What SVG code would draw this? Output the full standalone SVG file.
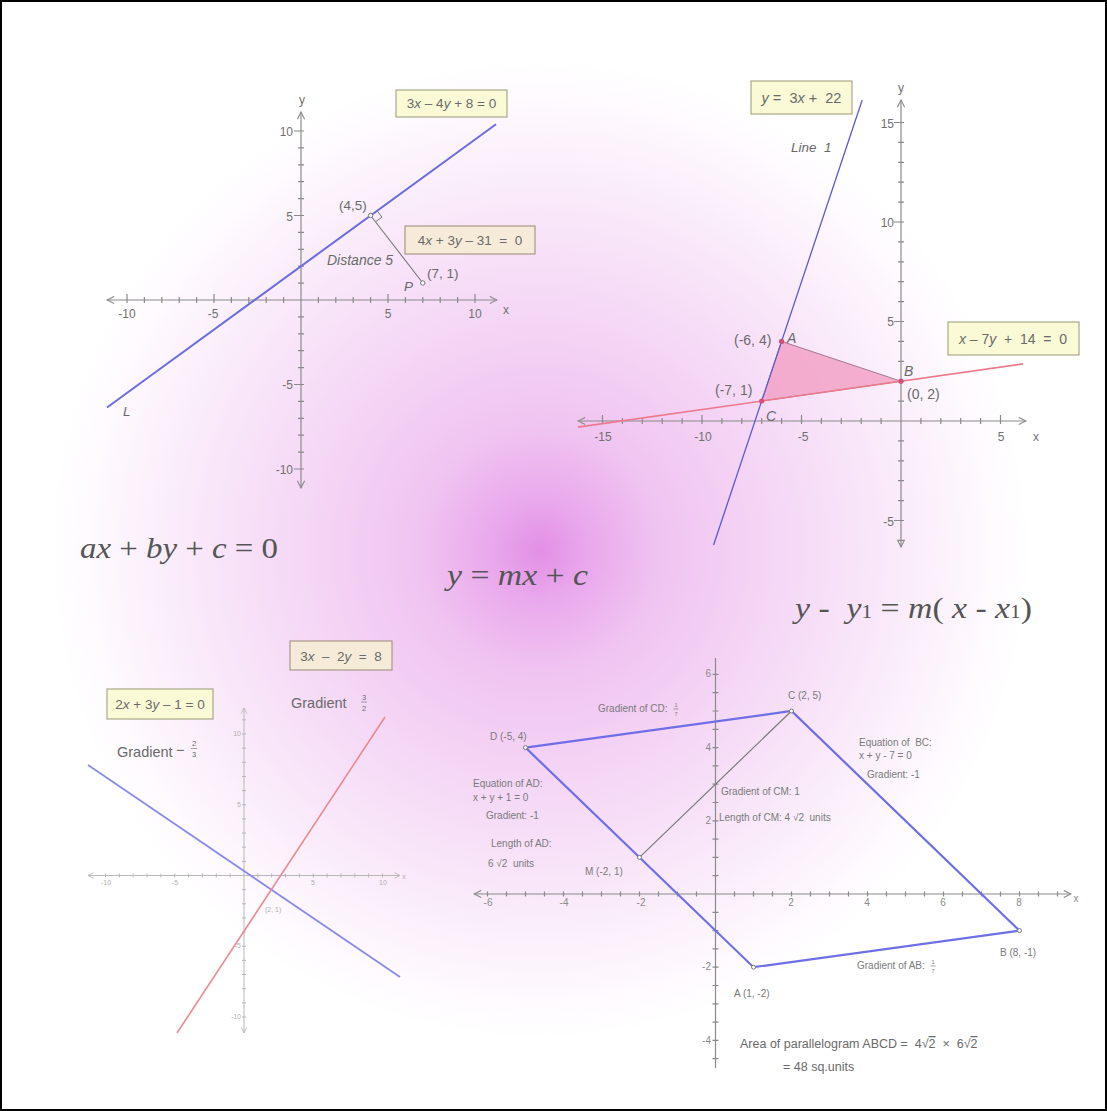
<svg xmlns="http://www.w3.org/2000/svg" width="1107" height="1111" viewBox="0 0 1107 1111">
<defs>
<radialGradient id="glow" gradientUnits="userSpaceOnUse" cx="540" cy="550" r="490">
<stop offset="0" stop-color="#e28fe5"/>
<stop offset="0.1" stop-color="#e9a8ec"/>
<stop offset="0.25" stop-color="#f0c4f1"/>
<stop offset="0.5" stop-color="#f5d8f6"/>
<stop offset="0.75" stop-color="#faecfa"/>
<stop offset="0.92" stop-color="#fefafe"/>
<stop offset="1" stop-color="#ffffff"/>
</radialGradient>
<marker id="arr" viewBox="0 0 10 10" refX="9" refY="5" markerWidth="9" markerHeight="9" markerUnits="userSpaceOnUse" orient="auto-start-reverse"><path d="M1,1 L9,5 L1,9" fill="none" stroke="#8a8a8a" stroke-width="1.2"/></marker>
<marker id="arrL" viewBox="0 0 10 10" refX="9" refY="5" markerWidth="7" markerHeight="7" markerUnits="userSpaceOnUse" orient="auto-start-reverse"><path d="M1,1 L9,5 L1,9" fill="none" stroke="#b5b5b5" stroke-width="1.2"/></marker>
</defs>
<style>
text{white-space:pre}
.ax{stroke:#8a8a8a;stroke-width:1.2;fill:none}
.axL{stroke:#b8b8b8;stroke-width:1;fill:none}
.t{font-family:"Liberation Sans",Arial,sans-serif;fill:#6a6a6a}
.ti{font-family:"Liberation Sans",Arial,sans-serif;fill:#6a6a6a;font-style:italic}
.tk{font-family:"Liberation Sans",Arial,sans-serif;fill:#707070;font-size:12px}
.tkL{font-family:"Liberation Sans",Arial,sans-serif;fill:#b0b0b0;font-size:7px}
.tk4{font-family:"Liberation Sans",Arial,sans-serif;fill:#8a8a8a;font-size:10px}
.lb{font-family:"Liberation Sans",Arial,sans-serif;fill:#7a7a7a;font-size:10px}
.fr{font-family:"Liberation Sans",Arial,sans-serif;fill:#7a7a7a;font-size:5.5px}
.boxY{fill:#fafad6;stroke:#a8a888;stroke-width:1.2}
.boxP{fill:#f6ead8;stroke:#a89888;stroke-width:1.2}
.f{font-family:"Liberation Serif","Times New Roman",serif;fill:#555;font-size:30px}
.blue{stroke:#6b6be2;stroke-width:2;fill:none}
.red{stroke:#ec7a8c;stroke-width:1.6;fill:none}
.pt{fill:#fff;stroke:#777;stroke-width:1}
</style>
<rect id="bg" x="0" y="0" width="1107" height="1111" fill="url(#glow)"/>

<g id="graph1">
<path class="ax" d="M107 300H497" marker-start="url(#arr)" marker-end="url(#arr)"/>
<path class="ax" d="M301 112V488" marker-start="url(#arr)" marker-end="url(#arr)"/>
<path class="ax" d="M127 297v6m17.4-6v6m17.4-6v6m17.4-6v6m17.4-6v6m17.4-6v6m17.4-6v6m17.4-6v6m17.4-6v6m17.4-6v6m34.8-6v6m17.4-6v6m17.4-6v6m17.4-6v6m17.4-6v6m17.4-6v6m17.4-6v6m17.4-6v6m17.4-6v6m17.4-6v6"/>
<path class="ax" d="M298 131h6m-6 16.9h6m-6 16.9h6m-6 16.9h6m-6 16.9h6m-6 16.9h6m-6 16.9h6m-6 16.9h6m-6 16.9h6m-6 16.9h6m-6 33.8h6m-6 16.9h6m-6 16.9h6m-6 16.9h6m-6 16.9h6m-6 16.9h6m-6 16.9h6m-6 16.9h6m-6 16.9h6m-6 16.9h6"/>
<path class="ax" d="M127 294v3M214 294v3M388 294v3M475 294v3M294 131h4M294 215.5h4M294 384.5h4M294 469h4"/>
<text class="tk" x="302" y="104" text-anchor="middle">y</text>
<text class="tk" x="506" y="314" text-anchor="middle">x</text>
<g text-anchor="middle"><text class="tk" x="127" y="318">-10</text><text class="tk" x="213" y="318">-5</text><text class="tk" x="388" y="318">5</text><text class="tk" x="475" y="318">10</text></g>
<g text-anchor="end"><text class="tk" x="293" y="136">10</text><text class="tk" x="293" y="221">5</text><text class="tk" x="293" y="389">-5</text><text class="tk" x="293" y="474">-10</text></g>
<path class="blue" d="M107 407.5L496 124.2"/>
<path d="M370.6 215.5L422.8 283" stroke="#777" stroke-width="1.1" fill="none"/>
<path d="M377.1 210.8L382 217.1L375.5 221.8" stroke="#777" stroke-width="1" fill="none"/>
<circle class="pt" cx="370.6" cy="215.5" r="2.2"/>
<circle class="pt" cx="422.8" cy="283" r="2.2"/>
<text class="t" x="353" y="210" font-size="13.5" text-anchor="middle">(4,5)</text>
<text class="ti" x="327" y="265" font-size="14">Distance 5</text>
<text class="t" x="427" y="278" font-size="13.5">(7, 1)</text>
<text class="ti" x="404" y="291" font-size="13.5">P</text>
<text class="ti" x="123" y="416" font-size="13.5">L</text>
<rect class="boxY" x="396" y="90" width="111" height="27"/>
<text class="t" x="451.5" y="108" font-size="13.5" text-anchor="middle">3<tspan font-style="italic">x</tspan> – 4<tspan font-style="italic">y</tspan> + 8 = 0</text>
<rect class="boxP" x="405" y="226" width="130" height="28"/>
<text class="t" x="470" y="245" font-size="13.5" text-anchor="middle">4<tspan font-style="italic">x</tspan> + 3<tspan font-style="italic">y</tspan> – 31  =  0</text>
</g>

<g id="graph2">
<path d="M781.6 341.4L901 381.2L761.7 401Z" fill="#f2a2c6" fill-opacity="0.85" stroke="#a07890" stroke-width="1"/>
<path class="ax" d="M578 421H1026" marker-start="url(#arr)" marker-end="url(#arr)"/>
<path class="ax" d="M901 100V547" marker-start="url(#arr)" marker-end="url(#arr)"/>
<path class="ax" d="M602.5 418v6m19.9-6v6m19.9-6v6m19.9-6v6m19.9-6v6m19.9-6v6m19.9-6v6m19.9-6v6m19.9-6v6m19.9-6v6m19.9-6v6m19.9-6v6m19.9-6v6m19.9-6v6m19.9-6v6m39.8-6v6m19.9-6v6m19.9-6v6m19.9-6v6m19.9-6v6"/>
<path class="ax" d="M898 122.5h6m-6 19.9h6m-6 19.9h6m-6 19.9h6m-6 19.9h6m-6 19.9h6m-6 19.9h6m-6 19.9h6m-6 19.9h6m-6 19.9h6m-6 19.9h6m-6 19.9h6m-6 19.9h6m-6 19.9h6m-6 19.9h6m-6 39.8h6m-6 19.9h6m-6 19.9h6m-6 19.9h6m-6 19.9h6m-6 19.9h6"/>
<path class="ax" d="M602.5 415v3M702 415v3M801.5 415v3M1000.5 415v3M894 122.5h4M894 222h4M894 321.5h4M894 520.5h4"/>
<text class="tk" x="901" y="92" text-anchor="middle" font-size="13">y</text>
<text class="tk" x="1036" y="441" text-anchor="middle" font-size="13">x</text>
<g text-anchor="middle"><text class="tk" x="603" y="441" font-size="14">-15</text><text class="tk" x="703" y="441" font-size="14">-10</text><text class="tk" x="803" y="441" font-size="14">-5</text><text class="tk" x="1001" y="441" font-size="14">5</text></g>
<g text-anchor="end"><text class="tk" x="894" y="128" font-size="14">15</text><text class="tk" x="894" y="227" font-size="14">10</text><text class="tk" x="894" y="326" font-size="14">5</text><text class="tk" x="894" y="526" font-size="14">-5</text></g>
<path d="M713.6 545L862.2 100" stroke="#5a5ad2" stroke-width="1.3" fill="none"/>
<path class="red" d="M578 427.1L1023 363.9"/>
<circle cx="781.6" cy="341.4" r="2.6" fill="#d2507a"/>
<circle cx="901" cy="381.2" r="2.6" fill="#d2507a"/>
<circle cx="761.7" cy="401" r="2.6" fill="#d2507a"/>
<text class="t" x="734" y="345" font-size="14">(-6, 4)</text>
<text class="ti" x="787" y="343" font-size="14">A</text>
<text class="ti" x="904" y="376" font-size="14">B</text>
<text class="t" x="907" y="399" font-size="14">(0, 2)</text>
<text class="t" x="715" y="395" font-size="14">(-7, 1)</text>
<text class="ti" x="766" y="421" font-size="14">C</text>
<text class="ti" x="791" y="152" font-size="13.5">Line  1</text>
<rect class="boxY" x="751" y="81" width="101" height="33"/>
<text class="t" x="801.5" y="103" font-size="14.5" text-anchor="middle"><tspan font-style="italic">y</tspan> =  3<tspan font-style="italic">x</tspan> +  22</text>
<rect class="boxY" x="948" y="322" width="131" height="33"/>
<text class="t" x="1013" y="344" font-size="14" text-anchor="middle"><tspan font-style="italic">x</tspan> – 7<tspan font-style="italic">y</tspan>  +  14  =  0</text>
</g>

<g id="formulas">
<text class="f" x="80" y="558" font-size="31" textLength="198" lengthAdjust="spacingAndGlyphs"><tspan font-style="italic">ax</tspan> + <tspan font-style="italic">by</tspan> + <tspan font-style="italic">c</tspan> = 0</text>
<text class="f" x="447" y="585" font-size="30" textLength="141" lengthAdjust="spacingAndGlyphs"><tspan font-style="italic">y</tspan> = <tspan font-style="italic">mx</tspan> + <tspan font-style="italic">c</tspan></text>
<text class="f" x="795" y="618" font-size="30" textLength="237" lengthAdjust="spacingAndGlyphs"><tspan font-style="italic">y</tspan> -  <tspan font-style="italic">y</tspan><tspan font-size="19">1</tspan> = <tspan font-style="italic">m</tspan>( <tspan font-style="italic">x</tspan> - <tspan font-style="italic">x</tspan><tspan font-size="19">1</tspan>)</text>
</g>

<g id="graph3">
<path class="axL" d="M88 875.5H400" marker-start="url(#arrL)" marker-end="url(#arrL)"/>
<path class="axL" d="M244 708V1033" marker-start="url(#arrL)" marker-end="url(#arrL)"/>
<path class="axL" d="M105.5 873.5v4m13.850-4v4m13.85-4v4m13.85-4v4m13.85-4v4m13.85-4v4m13.85-4v4m13.85-4v4m13.85-4v4m13.85-4v4m27.7-4v4m13.85-4v4m13.85-4v4m13.85-4v4m13.85-4v4m13.85-4v4m13.85-4v4m13.85-4v4m13.85-4v4m13.85-4v4"/>
<path class="axL" d="M242 719.85h4m-4 14.15h4m-4 14.15h4m-4 14.15h4m-4 14.15h4m-4 14.15h4m-4 14.15h4m-4 14.15h4m-4 14.15h4m-4 14.15h4m-4 14.15h4m-4 28.3h4m-4 14.15h4m-4 14.15h4m-4 14.15h4m-4 14.15h4m-4 14.15h4m-4 14.15h4m-4 14.15h4m-4 14.15h4m-4 14.15h4"/>
<text class="tkL" x="404" y="879" text-anchor="middle">x</text>
<g text-anchor="middle"><text class="tkL" x="106" y="885">-10</text><text class="tkL" x="175" y="885">-5</text><text class="tkL" x="313" y="885">5</text><text class="tkL" x="383" y="885">10</text></g>
<g text-anchor="end"><text class="tkL" x="241" y="736">10</text><text class="tkL" x="241" y="807">5</text><text class="tkL" x="241" y="948">-5</text><text class="tkL" x="241" y="1019">-10</text></g>
<path d="M88 765L400 977" stroke="#8a8ae8" stroke-width="1.8" fill="none"/>
<path d="M177 1033L385 717" stroke="#ee8890" stroke-width="1.6" fill="none"/>
<text class="tkL" x="265" y="912">(2, 1)</text>
<rect class="boxY" x="107" y="689" width="106" height="30"/>
<text class="t" x="160" y="709" font-size="13.5" text-anchor="middle" fill="#777">2<tspan font-style="italic">x</tspan> + 3<tspan font-style="italic">y</tspan> – 1 = 0</text>
<rect class="boxP" x="290" y="641" width="102" height="29"/>
<text class="t" x="341" y="661" font-size="13.5" text-anchor="middle">3<tspan font-style="italic">x</tspan>  –  2<tspan font-style="italic">y</tspan>  =  8</text>
<text class="t" x="117" y="757" font-size="14.5" fill="#8a8a8a">Gradient</text>
<text class="t" x="176" y="755" font-size="14.5" fill="#8a8a8a">−</text>
<text class="t" x="194" y="745.5" font-size="7.5" text-anchor="middle" fill="#8a8a8a">2</text>
<path d="M191 748.5h6" stroke="#8a8a8a" stroke-width="0.8"/>
<text class="t" x="194" y="757" font-size="7.5" text-anchor="middle" fill="#8a8a8a">3</text>
<text class="t" x="291" y="708" font-size="14.5" fill="#8a8a8a">Gradient</text>
<text class="t" x="364" y="699.5" font-size="7.5" text-anchor="middle" fill="#8a8a8a">3</text>
<path d="M361 702h6" stroke="#8a8a8a" stroke-width="0.8"/>
<text class="t" x="364" y="711" font-size="7.5" text-anchor="middle" fill="#8a8a8a">2</text>
</g>

<g id="graph4">
<path class="ax" d="M474 894H1071" marker-start="url(#arr)" marker-end="url(#arr)" stroke="#999"/>
<path class="ax" d="M715.5 658V1068" stroke="#999"/>
<path class="ax" stroke="#999" d="M487.5 891.5v5m19-5v5m19-5v5m19-5v5m19-5v5m19-5v5m19-5v5m19-5v5m19-5v5m19-5v5m19-5v5m19-5v5m38-5v5m19-5v5m19-5v5m19-5v5m19-5v5m19-5v5m19-5v5m19-5v5m19-5v5m19-5v5m19-5v5m19-5v5m19-5v5m19-5v5m19-5v5m19-5v5m19-5v5m19-5v5"/>
<path class="ax" stroke="#999" d="M712.5 674.4h6m-6 18.3h6m-6 18.3h6m-6 18.3h6m-6 18.3h6m-6 18.3h6m-6 18.3h6m-6 18.3h6m-6 18.3h6m-6 18.3h6m-6 18.3h6m-6 18.3h6m-6 36.6h6m-6 18.3h6m-6 18.3h6m-6 18.3h6m-6 18.3h6m-6 18.3h6m-6 18.3h6m-6 18.3h6m-6 18.3h6"/>
<text class="tk4" x="1076" y="902" text-anchor="middle">x</text>
<g text-anchor="middle"><text class="tk4" x="488" y="906">-6</text><text class="tk4" x="564" y="906">-4</text><text class="tk4" x="641" y="906">-2</text><text class="tk4" x="791" y="906">2</text><text class="tk4" x="867" y="906">4</text><text class="tk4" x="943" y="906">6</text><text class="tk4" x="1019" y="906">8</text></g>
<g text-anchor="end"><text class="tk4" x="711" y="677">6</text><text class="tk4" x="711" y="751">4</text><text class="tk4" x="711" y="824">2</text><text class="tk4" x="711" y="970">-2</text><text class="tk4" x="711" y="1044">-4</text></g>
<path d="M791.5 711L639.5 857.4" stroke="#7a7a7a" stroke-width="1.2" fill="none"/>
<path d="M525.5 747.6L791.5 711L1019.5 930.6L753.5 967.2Z" stroke="#6e6ee6" stroke-width="2.2" fill="none"/>
<circle class="pt" cx="525.5" cy="747.6" r="2"/>
<circle class="pt" cx="791.5" cy="711" r="2"/>
<circle class="pt" cx="1019.5" cy="930.6" r="2"/>
<circle class="pt" cx="753.5" cy="967.2" r="2"/>
<circle class="pt" cx="639.5" cy="857.4" r="2"/>
<text class="lb" x="598" y="712">Gradient of CD:</text>
<text class="fr" x="676" y="706.5" text-anchor="middle">1</text><path d="M673.5 709h5" stroke="#7a7a7a" stroke-width="0.7"/><text class="fr" x="676" y="716" text-anchor="middle">7</text>
<text class="lb" x="490" y="740">D (-5, 4)</text>
<text class="lb" x="473" y="787">Equation of AD:</text>
<text class="lb" x="473" y="801">x + y + 1 = 0</text>
<text class="lb" x="486" y="819">Gradient: -1</text>
<text class="lb" x="491" y="847">Length of AD:</text>
<text class="lb" x="488" y="867">6 √2  units</text>
<text class="lb" x="585" y="875">M (-2, 1)</text>
<text class="lb" x="721" y="795">Gradient of CM: 1</text>
<text class="lb" x="719" y="821">Length of CM: 4 √2  units</text>
<text class="lb" x="788" y="699">C (2, 5)</text>
<text class="lb" x="859" y="746">Equation of  BC:</text>
<text class="lb" x="859" y="759">x + y - 7 = 0</text>
<text class="lb" x="867" y="778">Gradient: -1</text>
<text class="lb" x="1000" y="956">B (8, -1)</text>
<text class="lb" x="857" y="969" font-size="9">Gradient of AB:</text>
<text class="fr" x="933" y="963.5" text-anchor="middle">1</text><path d="M930.5 966h5" stroke="#7a7a7a" stroke-width="0.7"/><text class="fr" x="933" y="973" text-anchor="middle">7</text>
<text class="lb" x="734" y="997">A (1, -2)</text>
<text class="t" x="740" y="1048" font-size="12.5" fill="#6a6a6a">Area of parallelogram ABCD =  4√<tspan text-decoration="overline">2</tspan>  ×  6√<tspan text-decoration="overline">2</tspan></text>
<text class="t" x="783" y="1071" font-size="12.5" fill="#6a6a6a">= 48 sq.units</text>
</g>

<rect x="1" y="1" width="1105" height="1109" fill="none" stroke="#000" stroke-width="2"/>
</svg>
